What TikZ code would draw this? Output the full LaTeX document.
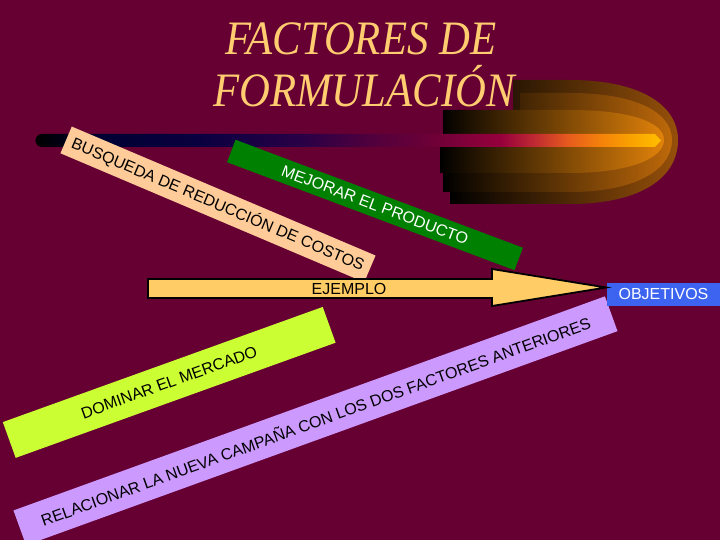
\documentclass[tikz,border=0pt]{standalone}
\usepackage{fontspec}
\newfontfamily\sansf{Liberation Sans}
\newfontfamily\titlef{Liberation Serif}
\definecolor{bg}{RGB}{102,0,51}
\definecolor{titlecol}{RGB}{255,204,112}
\definecolor{peach}{RGB}{255,204,153}
\definecolor{grn}{RGB}{0,128,0}
\definecolor{limec}{RGB}{204,255,51}
\definecolor{lav}{RGB}{204,153,255}
\definecolor{arrowfill}{RGB}{255,204,102}
\definecolor{objblue}{RGB}{60,100,240}
\definecolor{ca}{RGB}{150,80,10}
\definecolor{cb}{RGB}{190,105,10}
\definecolor{cc}{RGB}{225,130,10}
\definecolor{b1}{RGB}{0,0,50}
\definecolor{b2}{RGB}{10,0,64}
\definecolor{b3}{RGB}{40,0,70}
\definecolor{b4}{RGB}{85,0,60}
\definecolor{b5}{RGB}{110,0,55}
\definecolor{b6}{RGB}{150,0,60}
\definecolor{b7}{RGB}{190,40,50}
\definecolor{b8}{RGB}{230,90,30}
\definecolor{b9}{RGB}{245,130,10}
\definecolor{b10}{RGB}{250,165,0}
\definecolor{b11}{RGB}{255,190,0}
\pgfdeclarehorizontalshading{barshade}{100bp}{color(0bp)=(black); color(25bp)=(black); color(30.1bp)=(b1); color(38.1bp)=(b2); color(46.1bp)=(b3); color(52.5bp)=(b4); color(56.8bp)=(b5); color(62.2bp)=(b6); color(64.8bp)=(b7); color(67.5bp)=(b8); color(70.2bp)=(b9); color(72.8bp)=(b10); color(75bp)=(b11); color(100bp)=(b11)}
\tikzset{
  band/.style={rectangle, inner sep=0pt, font=\sansf\fontsize{16pt}{18pt}\selectfont, text=black},
  titlestyle/.style={inner sep=0pt, anchor=base, xscale=0.89, text=titlecol, font=\titlef\itshape\fontsize{48pt}{52pt}\selectfont},
  arrowbody/.style={draw=black, line width=1.8pt, line join=miter, fill=arrowfill}
}
\begin{document}
\begin{tikzpicture}[x=1pt,y=-1pt]
\useasboundingbox (0,0) rectangle (720,540);
\fill[bg] (0,0) rectangle (720,540);
% comet layers
\shade[left color=black, right color=ca] (513,80) -- (570,80) .. controls (640,80) and (678,105) .. (678,140) .. controls (678,178) and (640,204) .. (570,204) -- (450,204) -- (450,140) -- (513,140) -- cycle;
\shade[left color=black, right color=cb] (520,93) -- (570,93) .. controls (635,93) and (672,112) .. (672,140) .. controls (672,170) and (635,192) .. (570,192) -- (443,192) -- (443,140) -- (520,140) -- cycle;
\shade[left color=black, right color=cc] (443,110) -- (570,110) .. controls (630,110) and (664,122) .. (664,140) .. controls (664,158) and (630,173) .. (570,173) -- (440,173) -- (440,140) -- (443,140) -- cycle;
% bar
\shade[shading=barshade] (42,134) -- (655,134) -- (661,140.5) -- (655,147) -- (42,147) arc[start angle=90, end angle=270, radius=6.5] -- cycle;
% title
\node[titlestyle] (t1) at (361,55) {FACTORES DE};
\node[titlestyle] (t2) at (364,106.7) {FORMULACIÓN};
% bands
\node[band, fill=limec, minimum width=340pt, minimum height=38pt, rotate=19.8] (domin) at (169.2,382.4) {DOMINAR EL MERCADO};
\node[band, fill=lav, minimum width=629pt, minimum height=37pt, rotate=19.9] (relac) at (315.5,420.8) {RELACIONAR LA NUEVA CAMPAÑA CON LOS DOS FACTORES ANTERIORES};
\node[band, fill=peach, minimum width=330pt, minimum height=29pt, rotate=-23] (busq) at (218,204.4) {BUSQUEDA DE REDUCCIÓN DE COSTOS};
\node[band, fill=grn, text=white, minimum width=307pt, minimum height=24pt, rotate=-20.6] (mejor) at (375,205) {MEJORAR EL PRODUCTO};
% objetivos
\node[band, fill=objblue, text=white, minimum width=114pt, minimum height=23pt] (obj) at (663.5,294) {OBJETIVOS};
\coordinate (tip) at (606,287.5);
\draw[arrowbody] (148,279) -- (492,279) -- (492,269) -- (tip) -- (492,306) -- (492,298) -- (148,298) -- cycle;
\node[band] (ej) at (349,288.5) {EJEMPLO};
\end{tikzpicture}
\end{document}
